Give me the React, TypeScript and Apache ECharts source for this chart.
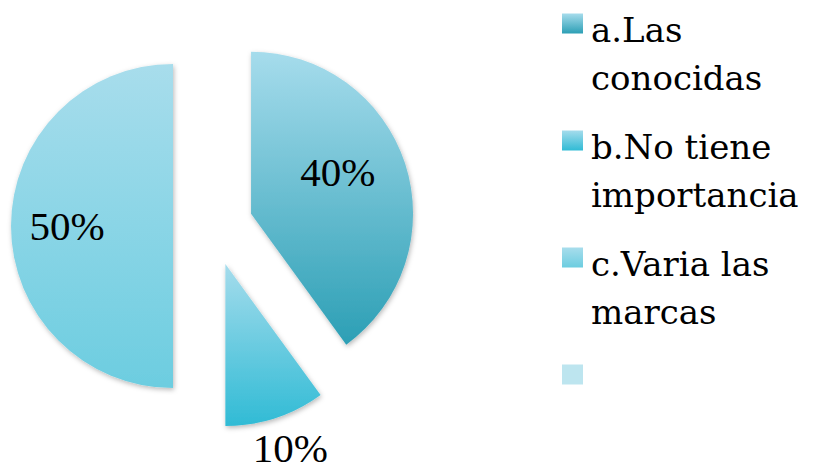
import React, { useEffect, useRef } from 'react';
import * as echarts from 'echarts';

// ---- data ----
const categories = ['a.Las\nconocidas', 'b.No tiene\nimportancia', 'c.Varia las\nmarcas', ' '];
const values = [40, 10, 50, 0];

// ---- palette (top -> bottom of each gradient) ----
const topColors = ['#a6dcec', '#a5dcec', '#a8ddec', '#bde5ef'];
const bottomColors = ['#2c9fb5', '#30bbd5', '#6ccde0', '#bde5ef'];

// label nudges (dx, dy) per slice, to mimic the original placement
const labelNudges: [number, number][] = [[7, -16], [39, 104], [-22, 0], [0, 0]];

function grad(i: number, y2 = 1) {
  return new echarts.graphic.LinearGradient(0, 0, 0, y2, [
    { offset: 0, color: topColors[i] },
    { offset: 1, color: bottomColors[i] },
  ]);
}

export default function App() {
  const ref = useRef<HTMLDivElement>(null);
  useEffect(() => {
    if (!ref.current) return;
    const chart = echarts.init(ref.current, null, { renderer: 'svg' });
    const option: any = {
      animation: false,
      backgroundColor: '#ffffff',
      legend: {
        orient: 'vertical',
        left: 562,
        top: 6,
        padding: 0,
        itemWidth: 21,
        itemHeight: 81,
        itemGap: 21,
        icon: 'path://M0,0H21V20H0Z M0,81',
        selectedMode: false,
        formatter: (name: string) => (name === ' ' ? ' \n ' : name),
        textStyle: {
          fontFamily: 'DejaVu Serif',
          fontSize: 34,
          lineHeight: 48,
          color: '#000',
          padding: [0, 0, 0, 3],
        },
        data: categories.map((c, i) => ({
          name: c,
          itemStyle: { color: grad(i, 20 / 81), borderWidth: 0 },
        })),
      },
      series: [
        {
          type: 'pie',
          radius: 162,
          center: [213, 226],
          startAngle: 90,
          clockwise: true,
          selectedMode: 'multiple',
          selectedOffset: 40,
          avoidLabelOverlap: false,
          itemStyle: {
            shadowBlur: 5,
            shadowColor: 'rgba(0,0,0,0.28)',
            shadowOffsetX: 1,
            shadowOffsetY: 2,
          },
          select: { itemStyle: { borderWidth: 0 } },
          emphasis: { disabled: true },
          label: {
            show: true,
            position: 'inside',
            formatter: '{d}%',
            fontFamily: 'Liberation Serif',
            fontSize: 41,
            lineHeight: 30,
            color: '#000',
          },
          labelLine: { show: false },
          labelLayout: (p: any) => ({ dx: labelNudges[p.dataIndex][0], dy: labelNudges[p.dataIndex][1] }),
          data: categories.map((c, i) => ({
            name: c,
            value: values[i],
            selected: values[i] > 0,
            itemStyle: { color: grad(i) },
            label: { show: values[i] > 0 },
          })),
        },
      ],
    };
    chart.setOption(option);
    return () => chart.dispose();
  }, []);
  return (
    <div
      ref={ref}
      style={{ position: 'fixed', left: 0, top: 0, width: 816, height: 475 }}
    />
  );
}
